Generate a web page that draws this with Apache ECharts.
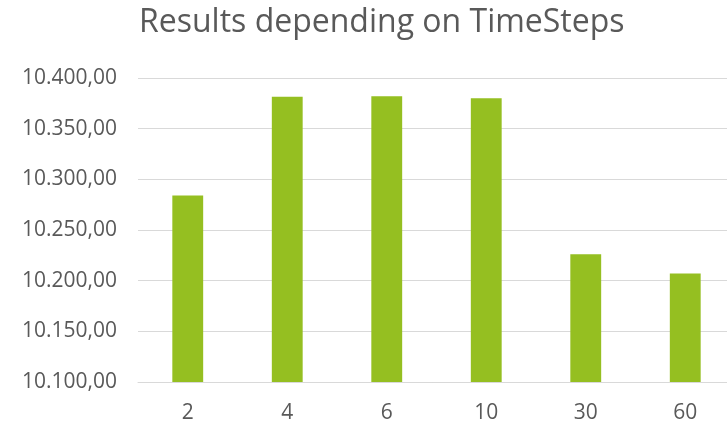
<!DOCTYPE html>
<html>
<head>
<meta charset="utf-8">
<script src="https://cdn.jsdelivr.net/npm/echarts@6/dist/echarts.min.js"></script>
<style>
  html, body { margin: 0; padding: 0; background: #ffffff; overflow: hidden; }
  #chart { width: 727px; height: 423px; }
</style>
</head>
<body>
<div id="chart"></div>
<script>
// Time step settings and the resulting values
const categories = ['2', '4', '6', '10', '30', '60'];
const results = [10284, 10381.5, 10382, 10380, 10226, 10207];

// Value axis range
const yMin = 10100;
const yMax = 10400;
const yStep = 50;

// German number format: 10.400,00
function formatDe(v) {
  const parts = v.toFixed(2).split('.');
  const intPart = parts[0].replace(/\B(?=(\d{3})+(?!\d))/g, '.');
  return intPart + ',' + parts[1];
}

const chart = echarts.init(document.getElementById('chart'), null, { renderer: 'canvas' });
chart.setOption({
  animation: false,
  backgroundColor: '#ffffff',
  title: {
    text: 'Results depending on TimeSteps',
    left: 134,
    top: 2,
    textStyle: {
      fontFamily: 'Open Sans',
      fontSize: 32,
      fontWeight: 'normal',
      color: '#595959'
    }
  },
  // plot area runs slightly past the right edge of the canvas
  grid: {
    left: 138,
    top: 78,
    width: 597,
    height: 304,
    containLabel: false,
    outerBoundsMode: 'none'
  },
  xAxis: {
    type: 'category',
    data: categories,
    axisLine: { show: true, lineStyle: { color: '#D9D9D9', width: 1 } },
    axisTick: { show: false },
    axisLabel: {
      color: '#595959',
      fontFamily: 'Open Sans',
      fontSize: 21,
      margin: 21
    }
  },
  yAxis: {
    type: 'value',
    min: yMin,
    max: yMax,
    interval: yStep,
    axisLine: { show: false },
    axisTick: { show: false },
    splitLine: { lineStyle: { color: '#D9D9D9', width: 1 } },
    axisLabel: {
      color: '#595959',
      fontFamily: 'Open Sans',
      fontSize: 21,
      margin: 21,
      formatter: formatDe
    }
  },
  series: [{
    type: 'bar',
    data: results,
    barWidth: '31%',
    itemStyle: { color: '#95BF21' }
  }]
});
</script>
</body>
</html>
